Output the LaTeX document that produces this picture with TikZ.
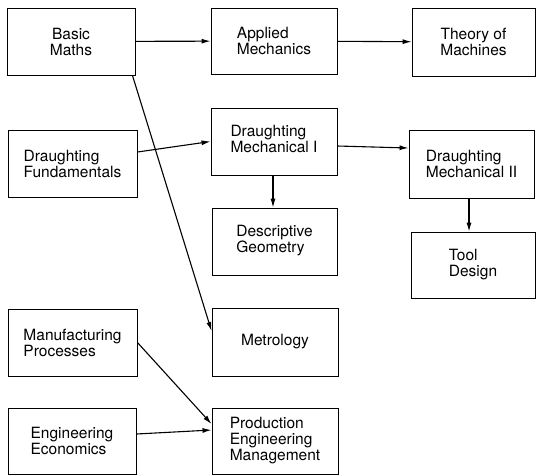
\documentclass[tikz,border=0pt]{standalone}
\usepackage{fontspec}
\setmainfont{TeX Gyre Heros}
\usetikzlibrary{arrows.meta}
\begin{document}
\begin{tikzpicture}[x=1pt,y=-1pt,
  box/.style={draw, line width=0.9pt, rectangle, inner sep=0pt, align=left,
    font=\fontsize{15.5}{16}\selectfont},
  conn/.style={line width=1.1pt, -{Latex[length=9pt,width=5pt]}}]
\useasboundingbox (0,0) rectangle (537,475);
\node[box, align=center, minimum width=128pt, minimum height=67pt] (bm) at (71,41.5) {Basic\\Maths};
\node[box, minimum width=126pt, minimum height=66pt] (am) at (274,41) {Applied\\Mechanics};
\node[box, align=center, minimum width=123pt, minimum height=68pt] (tm) at (473.5,42) {Theory of\\Machines};
\node[box, minimum width=129pt, minimum height=67pt] (df) at (72.5,163.5) {Draughting\\Fundamentals};
\node[box, minimum width=126pt, minimum height=67pt] (dm1) at (274,141.5) {\raisebox{3pt}{\begin{tabular}{@{}l@{}}Draughting\\Mechanical I\end{tabular}}};
\node[box, minimum width=125pt, minimum height=68pt] (dm2) at (471.5,164) {Draughting\\Mechanical II};
\node[box, minimum width=125pt, minimum height=67pt] (dg) at (274.5,241.5) {\raisebox{3pt}{\begin{tabular}{@{}l@{}}Descriptive\\Geometry\end{tabular}}};
\node[box, minimum width=124pt, minimum height=66pt] (td) at (473,265) {Tool\\Design};
\node[box, minimum width=129pt, minimum height=67pt] (mp) at (72.5,342.5) {Manufacturing\\Processes};
\node[box, minimum width=126pt, minimum height=68pt] (met) at (275,342) {Metrology};
\node[box, minimum width=128pt, minimum height=66pt] (ee) at (72,441) {Engineering\\Economics};
\node[box, minimum width=126pt, minimum height=66pt] (pem) at (275,441) {Production\\Engineering\\Management};

\draw[conn] (bm) -- (am);
\draw[conn] (am) -- (tm);
\draw[conn] ([yshift=11.5pt]df.east) -- (dm1.west);
\draw[conn] ([yshift=-4.5pt]dm1.east) -- ([yshift=16pt]dm2.west);
\draw[conn] ([xshift=-1pt]dm1.south) -- ([xshift=-1pt]dm1.south |- dg.north);
\draw[conn] ([xshift=-2.5pt]dm2.south) -- ([xshift=-2.5pt]dm2.south |- td.north);
\draw[conn] ([xshift=-3pt]bm.south east) -- ([yshift=11pt]met.west);
\draw[conn] (mp.east) -- ([yshift=17pt]pem.west);
\draw[conn] ([yshift=7pt]ee.east) -- ([yshift=11pt]pem.west);
\end{tikzpicture}
\end{document}
